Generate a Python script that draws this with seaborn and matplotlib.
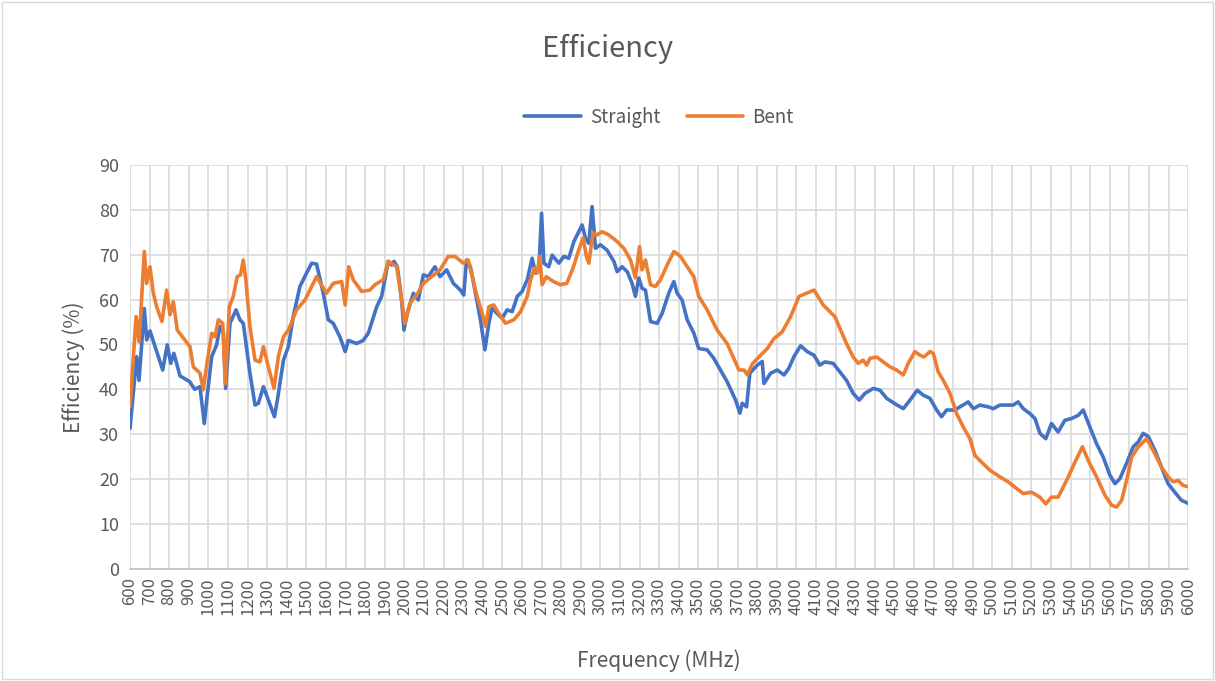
import numpy as np
import pandas as pd
import matplotlib
matplotlib.use('Agg')
import matplotlib.pyplot as plt
import seaborn as sns

# data (MHz, %)
straight_freq = [600, 634, 646, 673, 685, 702, 767, 790, 808, 824, 855, 905, 930, 957, 979, 995,
                 1017, 1042, 1059, 1077, 1088, 1110, 1141, 1161, 1178, 1212, 1238, 1255, 1281, 1306,
                 1337, 1352, 1383, 1408, 1433, 1467, 1501, 1527, 1552, 1586, 1612, 1637, 1671, 1698,
                 1714, 1756, 1790, 1816, 1859, 1884, 1918, 1935, 1947, 1964, 1986, 1998, 2015, 2046,
                 2071, 2097, 2122, 2156, 2182, 2216, 2250, 2286, 2303, 2317, 2337, 2363, 2388, 2411,
                 2431, 2448, 2473, 2499, 2524, 2550, 2576, 2601, 2627, 2652, 2669, 2686, 2700, 2712,
                 2737, 2754, 2788, 2814, 2839, 2865, 2890, 2907, 2924, 2941, 2958, 2975, 3000, 3034,
                 3069, 3086, 3111, 3137, 3162, 3179, 3196, 3213, 3230, 3256, 3290, 3315, 3349, 3375,
                 3392, 3417, 3443, 3477, 3502, 3545, 3579, 3613, 3647, 3690, 3712, 3724, 3746, 3763,
                 3801, 3826, 3835, 3869, 3903, 3937, 3962, 3988, 4022, 4056, 4090, 4120, 4146, 4188,
                 4222, 4256, 4290, 4321, 4350, 4393, 4427, 4461, 4503, 4546, 4580, 4617, 4648, 4682,
                 4716, 4741, 4767, 4809, 4835, 4877, 4903, 4937, 4979, 5005, 5039, 5073, 5107, 5132,
                 5158, 5192, 5218, 5243, 5273, 5302, 5336, 5370, 5404, 5438, 5464, 5498, 5532, 5566,
                 5600, 5626, 5651, 5685, 5719, 5745, 5770, 5796, 5830, 5863, 5897, 5931, 5965, 6000]
straight_eff = [31.3, 47.3, 42.0, 58.0, 51.0, 53.0, 44.3, 49.9, 45.8, 48.0, 43.0, 41.7, 40.0, 40.6, 32.4, 39.0,
                47.3, 49.9, 54.0, 52.5, 40.2, 54.7, 57.7, 55.5, 54.7, 43.6, 36.5, 36.9, 40.6, 37.6,
                33.9, 37.6, 46.5, 49.5, 56.2, 62.9, 65.9, 68.1, 67.9, 61.4, 55.5, 54.7, 51.7, 48.4,
                50.9, 50.2, 50.9, 52.5, 58.4, 60.7, 68.5, 67.7, 68.5, 67.3, 59.9, 53.2, 57.0, 61.4,
                59.9, 65.5, 65.1, 67.3, 65.1, 66.6, 63.6, 62.1, 61.0, 68.8, 67.3, 61.4, 55.5, 48.8,
                54.7, 58.1, 56.9, 55.8, 57.7, 57.3, 60.7, 61.8, 64.4, 69.2, 65.9, 66.6, 79.2, 68.1,
                67.3, 69.9, 68.1, 69.6, 69.2, 72.9, 75.1, 76.6, 73.7, 72.5, 80.7, 71.4, 72.2, 71.0,
                68.5, 66.2, 67.3, 66.2, 63.6, 60.7, 64.8, 62.5, 62.1, 55.1, 54.7, 56.9, 61.4, 64.0,
                61.4, 59.9, 55.5, 52.5, 49.1, 48.8, 46.9, 44.3, 41.7, 37.6, 34.7, 36.9, 36.1, 43.6,
                45.4, 46.2, 41.3, 43.6, 44.3, 43.2, 44.7, 47.3, 49.7, 48.4, 47.6, 45.4, 46.1, 45.8,
                43.9, 42.0, 39.1, 37.6, 39.1, 40.2, 39.8, 38.0, 36.8, 35.7, 37.6, 39.8, 38.7, 38.0,
                35.4, 33.9, 35.4, 35.4, 36.1, 37.2, 35.7, 36.5, 36.1, 35.7, 36.5, 36.5, 36.5, 37.2,
                35.7, 34.6, 33.5, 30.2, 29.0, 32.4, 30.5, 33.1, 33.5, 34.2, 35.4, 31.6, 27.9, 24.9,
                20.9, 19.0, 20.1, 23.5, 27.2, 28.3, 30.2, 29.5, 26.4, 22.7, 19.0, 17.1, 15.3, 14.6]

bent_freq = [600, 631, 646, 654, 673, 685, 702, 719, 736, 763, 787, 804, 821, 841, 880, 906, 923,
             957, 974, 995, 1017, 1034, 1051, 1073, 1086, 1107, 1127, 1147, 1164, 1178, 1191, 1212,
             1238, 1263, 1281, 1306, 1335, 1357, 1383, 1408, 1450, 1493, 1552, 1603, 1637, 1680,
             1698, 1716, 1739, 1782, 1824, 1850, 1892, 1918, 1961, 2003, 2029, 2063, 2097, 2139,
             2182, 2224, 2258, 2301, 2326, 2371, 2397, 2414, 2431, 2456, 2482, 2516, 2559, 2593,
             2627, 2644, 2664, 2678, 2690, 2703, 2724, 2761, 2795, 2829, 2863, 2890, 2912, 2929,
             2941, 2963, 2983, 3009, 3043, 3086, 3120, 3154, 3179, 3200, 3213, 3230, 3256, 3281,
             3307, 3341, 3375, 3409, 3443, 3477, 3502, 3545, 3596, 3647, 3681, 3707, 3733, 3750,
             3776, 3818, 3852, 3886, 3928, 3971, 4014, 4052, 4090, 4112, 4137, 4171, 4197, 4222,
             4256, 4290, 4316, 4341, 4359, 4376, 4410, 4444, 4478, 4512, 4546, 4571, 4605, 4631,
             4651, 4682, 4699, 4724, 4750, 4784, 4818, 4852, 4886, 4911, 4945, 4988, 5039, 5081,
             5124, 5158, 5200, 5243, 5273, 5302, 5336, 5379, 5422, 5460, 5489, 5532, 5575, 5609,
             5634, 5660, 5685, 5711, 5745, 5787, 5821, 5863, 5897, 5923, 5948, 5974, 6000]
bent_eff = [36.1, 56.2, 50.6, 56.2, 70.7, 63.6, 67.3, 61.4, 58.4, 55.1, 62.1, 56.6, 59.5, 53.2, 51.0, 49.5, 45.0,
            43.6, 39.9, 46.5, 52.5, 51.7, 55.5, 54.7, 41.3, 58.4, 60.7, 65.1, 65.5, 68.8, 64.4, 54.0,
            46.5, 46.1, 49.5, 45.0, 40.2, 47.3, 51.7, 53.2, 57.7, 59.9, 65.1, 61.4, 63.6, 64.0,
            58.8, 67.3, 64.4, 61.8, 62.1, 63.3, 64.4, 68.5, 67.3, 54.7, 59.2, 61.0, 63.6, 65.1,
            66.6, 69.6, 69.6, 68.1, 68.8, 60.7, 56.9, 54.0, 58.4, 58.8, 56.9, 54.7, 55.5, 57.3,
            60.7, 64.4, 67.0, 65.9, 69.6, 63.3, 65.1, 64.0, 63.3, 63.6, 67.3, 71.1, 73.7, 69.6,
            68.1, 74.8, 74.4, 75.1, 74.4, 72.9, 71.4, 68.8, 64.8, 71.8, 66.6, 68.8, 63.3, 62.9,
            64.4, 67.7, 70.7, 69.6, 67.3, 65.1, 60.7, 57.7, 53.2, 50.2, 46.9, 44.3, 44.3, 43.2,
            45.7, 47.6, 49.1, 51.3, 52.8, 56.2, 60.7, 61.4, 62.1, 60.6, 58.8, 57.3, 56.2, 53.6,
            50.2, 47.2, 45.8, 46.5, 45.4, 46.9, 47.2, 46.1, 45.0, 44.3, 43.2, 45.8, 48.4, 47.6,
            47.2, 48.4, 48.0, 43.9, 42.0, 39.1, 34.6, 31.6, 29.0, 25.3, 23.8, 22.0, 20.5, 19.4,
            17.9, 16.8, 17.1, 16.0, 14.5, 16.0, 16.0, 19.7, 23.8, 27.2, 24.2, 20.5, 16.4, 14.2,
            13.8, 15.3, 19.7, 24.9, 27.2, 29.0, 26.4, 22.7, 20.5, 19.4, 19.7, 18.6, 18.3]

series_names = ['Straight', 'Bent']
series_colors = ['#4472C4', '#ED7D31']
tick_freqs = list(range(600, 6001, 100))

df = pd.concat([
    pd.DataFrame({'Frequency': straight_freq, 'Efficiency': straight_eff, 'Series': 'Straight'}),
    pd.DataFrame({'Frequency': bent_freq, 'Efficiency': bent_eff, 'Series': 'Bent'}),
])

sns.set_style('white')
plt.rcParams['font.family'] = ['Noto Sans CJK SC', 'DejaVu Sans']
grey = '#595959'

fig = plt.figure(figsize=(12.15, 6.81), dpi=100)
ax = fig.add_axes([0.107, 0.1645, 0.871, 0.5935])

sns.lineplot(data=df, x='Frequency', y='Efficiency', hue='Series', hue_order=series_names,
             palette=series_colors, estimator=None, sort=False, linewidth=2.6, ax=ax)

ax.set_xlim(600, 6000)
ax.set_ylim(0, 90)
ax.set_xticks(tick_freqs)
ax.set_xticklabels([str(t) for t in tick_freqs], rotation=90, fontsize=12, color=grey)
ax.set_yticks(range(0, 91, 10))
ax.tick_params(axis='y', labelsize=13, colors=grey, length=0, pad=8)
ax.tick_params(axis='x', length=0, pad=6)
ax.grid(True, color='#d9d9d9', linewidth=1.2)
ax.set_axisbelow(True)
for s in ['top', 'right', 'left']:
    ax.spines[s].set_visible(False)
ax.spines['bottom'].set_color('#bfbfbf')
ax.spines['bottom'].set_linewidth(1.2)

ax.set_xlabel('Frequency (MHz)', fontsize=15, color=grey, labelpad=25)
ax.set_ylabel('Efficiency (%)', fontsize=15, color=grey, labelpad=10)
fig.suptitle('Efficiency', fontsize=21, color=grey, y=0.95)

handles, labels = ax.get_legend_handles_labels()
ax.legend(handles, labels, loc='lower center', bbox_to_anchor=(0.5, 1.05), ncol=2,
          frameon=False, fontsize=13.5, labelcolor=grey, handlelength=3.0,
          handletextpad=0.5, columnspacing=1.4)

# thin border round the chart area, like the office chart frame
fig.patches.append(plt.Rectangle((0.002, 0.003), 0.996, 0.994, transform=fig.transFigure,
                                 fill=False, edgecolor='#d9d9d9', linewidth=1))

fig.savefig('out.png', dpi=100)
